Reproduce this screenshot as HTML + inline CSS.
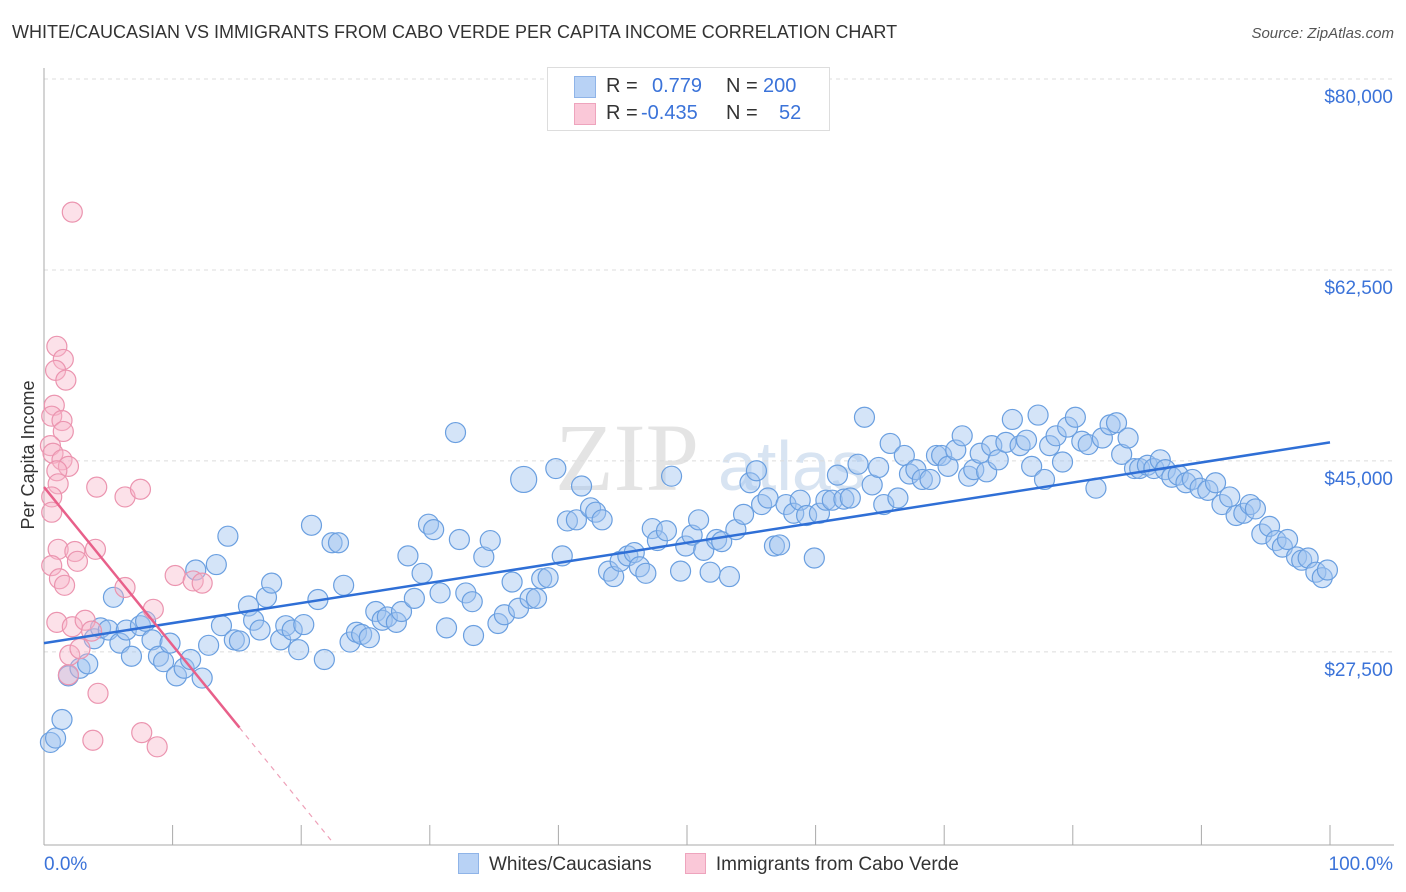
<!DOCTYPE html>
<html><head><meta charset="utf-8">
<style>
body{margin:0;background:#fff;font-family:"Liberation Sans",sans-serif;}
#wrap{position:relative;width:1406px;height:892px;overflow:hidden;}
.t{position:absolute;white-space:nowrap;}
</style></head>
<body>
<div id="wrap">
<div class="t" style="left:12px;top:22px;font-size:18px;color:#333;">WHITE/CAUCASIAN VS IMMIGRANTS FROM CABO VERDE PER CAPITA INCOME CORRELATION CHART</div>
<div class="t" style="right:12px;top:25px;font-size:15px;color:#555;font-style:italic;">Source: ZipAtlas.com</div>
<svg id="chart" width="1406" height="892" style="position:absolute;left:0;top:0"></svg>
<div class="t" style="left:547px;top:67px;width:281px;height:62px;border:1px solid #ddd;background:#fff;font-size:20px;">
 <div style="position:absolute;left:26px;top:8px;width:20px;height:20px;background:#b8d2f5;border:1px solid #8fb4e8;"></div>
 <div style="position:absolute;left:26px;top:35px;width:20px;height:20px;background:#fac8d8;border:1px solid #eea4bd;"></div>
 <div style="position:absolute;left:58px;top:7px;color:#333">R = </div>
 <div style="position:absolute;left:104px;top:7px;color:#3b73d9">0.779</div>
 <div style="position:absolute;left:178px;top:7px;color:#333">N = </div>
 <div style="position:absolute;left:215px;top:7px;color:#3b73d9">200</div>
 <div style="position:absolute;left:58px;top:34px;color:#333">R = </div>
 <div style="position:absolute;left:93px;top:34px;color:#3b73d9">-0.435</div>
 <div style="position:absolute;left:178px;top:34px;color:#333">N = </div>
 <div style="position:absolute;left:231px;top:34px;color:#3b73d9">52</div>
</div>
<div class="t" style="left:458px;top:853px;font-size:19px;color:#333;">
 <span style="display:inline-block;"><span style="display:inline-block;width:19px;height:19px;background:#b8d2f5;border:1px solid #8fb4e8;vertical-align:-4px;margin-right:10px;"></span>Whites/Caucasians</span>
 <span style="display:inline-block;margin-left:28px;"><span style="display:inline-block;width:19px;height:19px;background:#fac8d8;border:1px solid #eea4bd;vertical-align:-4px;margin-right:10px;"></span>Immigrants from Cabo Verde</span>
</div>
</div>
<script>
const blueX=[0.5,0.9,1.4,1.9,2.8,3.4,3.9,4.4,5.0,5.4,5.9,6.4,6.8,7.5,7.9,8.4,8.9,9.3,9.8,10.3,10.9,11.4,11.8,12.3,12.8,13.4,13.8,14.3,14.8,15.2,15.9,16.3,16.8,17.3,17.7,18.4,18.8,19.3,19.8,20.2,20.8,21.3,21.8,22.4,22.9,23.3,23.8,24.3,24.7,25.3,25.8,26.3,26.7,27.4,27.8,28.3,28.8,29.4,29.9,30.3,30.8,31.3,32.0,32.3,32.8,33.3,33.4,34.2,34.7,35.3,35.8,36.4,36.9,37.3,37.8,38.3,38.7,39.2,39.8,40.3,40.7,41.4,41.8,42.5,42.9,43.4,43.9,44.3,44.8,45.4,45.9,46.3,46.8,47.3,47.7,48.4,48.8,49.5,49.9,50.4,50.9,51.3,51.8,52.3,52.7,53.3,53.8,54.4,54.9,55.4,55.8,56.3,56.8,57.2,57.7,58.3,58.8,59.3,59.9,60.3,60.8,61.3,61.7,62.2,62.7,63.3,63.8,64.4,64.9,65.3,65.8,66.4,66.9,67.3,67.8,68.3,68.9,69.4,69.8,70.3,70.9,71.4,71.9,72.3,72.8,73.3,73.7,74.2,74.8,75.3,75.9,76.4,76.8,77.3,77.8,78.2,78.7,79.2,79.6,80.2,80.7,81.2,81.8,82.3,82.9,83.4,83.8,84.3,84.8,85.2,85.8,86.3,86.8,87.2,87.7,88.2,88.8,89.3,89.9,90.5,91.1,91.6,92.2,92.7,93.3,93.8,94.2,94.7,95.3,95.8,96.3,96.7,97.4,97.8,98.3,98.9,99.4,99.8];
const blueY=[19.2,19.6,21.3,25.3,26.0,26.4,28.7,29.7,29.5,32.5,28.3,29.5,27.1,29.9,30.3,28.6,27.1,26.6,28.3,25.3,26.0,26.8,35.0,25.1,28.1,35.5,29.9,38.1,28.6,28.5,31.7,30.4,29.5,32.5,33.8,28.6,29.9,29.5,27.7,30.0,39.1,32.3,26.8,37.5,37.5,33.6,28.4,29.3,29.1,28.8,31.2,30.4,30.7,30.2,31.2,36.3,32.4,34.7,39.2,38.7,32.9,29.7,47.6,37.8,32.9,32.1,29.0,36.2,37.7,30.1,30.9,33.9,31.5,43.3,32.4,32.4,34.2,34.3,44.3,36.3,39.5,39.6,42.7,40.7,40.3,39.6,34.9,34.4,35.8,36.3,36.6,35.3,34.7,38.8,37.7,38.6,43.6,34.9,37.2,38.2,39.6,36.8,34.8,37.8,37.6,34.4,38.7,40.1,43.0,44.1,41.0,41.6,37.2,37.3,41.0,40.2,41.4,40.0,36.1,40.2,41.4,41.4,43.7,41.5,41.6,44.7,49.0,42.8,44.4,41.0,46.6,41.6,45.5,43.8,44.2,43.3,43.3,45.5,45.5,44.5,46.0,47.3,43.6,44.2,45.7,44.0,46.4,45.1,46.7,48.8,46.4,46.9,44.5,49.2,43.3,46.4,47.3,44.9,48.1,49.0,46.8,46.5,42.5,47.1,48.3,48.5,45.6,47.1,44.3,44.3,44.6,44.3,45.1,44.2,43.5,43.7,43.0,43.3,42.5,42.3,43.0,41.0,41.7,40.0,40.2,41.0,40.6,38.3,39.0,37.7,37.1,37.8,36.2,35.9,36.1,34.8,34.3,35.0];
const pinkX=[2.2,1.0,1.5,0.9,1.7,0.8,0.6,1.4,1.5,0.5,0.7,1.4,1.9,1.0,1.1,4.1,6.3,7.5,0.6,0.6,1.1,2.4,2.6,4.0,0.6,1.2,1.6,6.3,10.2,11.6,12.3,8.5,1.0,2.2,3.2,3.7,2.0,1.9,2.8,4.2,3.8,7.6,8.8];
const pinkY=[67.8,55.5,54.3,53.3,52.4,50.1,49.1,48.7,47.7,46.4,45.7,45.1,44.5,44.1,42.9,42.6,41.7,42.4,41.7,40.3,36.9,36.7,35.8,36.9,35.4,34.2,33.6,33.4,34.5,34.0,33.8,31.4,30.2,29.8,30.4,29.4,27.2,25.4,27.8,23.7,19.4,20.1,18.8];
const bigBlue=[73];
const blueTrend=[28.3,46.7];
const pinkTrendStart=42.6, pinkSlope=-1.45, pinkSolidEnd=15.2, pinkDashEnd=22.5;
const yTicks=[27500,45000,62500,80000];
const yTickLabels=["$27,500","$45,000","$62,500","$80,000"];
const xTicks=[0,10,20,30,40,50,60,70,80,90,100];

const X0=44,X1=1330,YB=845,YT=79,VMIN=9.8,VMAX=80;
const sx=v=>X0+(v/100)*(X1-X0);
const sy=v=>YB-(v-VMIN)/(VMAX-VMIN)*(YB-YT);
const svg=document.getElementById('chart');
const NS='http://www.w3.org/2000/svg';
function mk(tag,attrs){const e=document.createElementNS(NS,tag);for(const k in attrs)e.setAttribute(k,attrs[k]);svg.appendChild(e);return e;}

// watermark
let wm=mk('text',{x:555,y:490,'font-size':96,fill:'#e4e4e4','font-family':'Liberation Serif, serif'});


wm.textContent='ZIP';
let wm2=mk('text',{x:718,y:490,'font-size':70,fill:'#d8e4f2','font-family':'Liberation Sans, sans-serif'});


wm2.textContent='atlas';

// gridlines
yTicks.forEach((t,i)=>{
 const y=sy(t/1000);
 const g=mk('line',{x1:X0,x2:1394,y1:y,y2:y,stroke:'#dcdcdc','stroke-dasharray':'4,4'});
 
 
 const lb=mk('text',{x:1393,y:y+24,'text-anchor':'end','font-size':19,fill:'#3b73d9','font-family':'Liberation Sans, sans-serif'});
 
 
 lb.textContent=yTickLabels[i];
});
// axes
let ya=mk('line',{x1:X0,x2:X0,y1:68,y2:YB,stroke:'#aaa'});


let xa=mk('line',{x1:X0,x2:1394,y1:YB,y2:YB,stroke:'#aaa'});


xTicks.forEach(t=>{
 const tk=mk('line',{x1:sx(t),x2:sx(t),y1:YB-20,y2:YB,stroke:'#aaa'});
 
 
});
let xl0=mk('text',{x:44,y:870,'font-size':19,fill:'#3b73d9','font-family':'Liberation Sans, sans-serif'});


xl0.textContent='0.0%';
let xl1=mk('text',{x:1393,y:870,'text-anchor':'end','font-size':19,fill:'#3b73d9','font-family':'Liberation Sans, sans-serif'});


xl1.textContent='100.0%';
let yt=mk('text',{x:0,y:0,'font-size':18,fill:'#333','font-family':'Liberation Sans, sans-serif','text-anchor':'middle',transform:'translate(34,455) rotate(-90)'});


yt.textContent='Per Capita Income';

// points
blueX.forEach((x,i)=>{
 const c=mk('circle',{cx:sx(x),cy:sy(blueY[i]),r:bigBlue.includes(i)?13:10,fill:'rgba(160,196,240,0.45)',stroke:'#6a9fe0','stroke-width':1.2});
 
 
});
pinkX.forEach((x,i)=>{
 const c=mk('circle',{cx:sx(x),cy:sy(pinkY[i]),r:10,fill:'rgba(248,180,200,0.4)',stroke:'#eb94af','stroke-width':1.2});
 
 
});
// trend lines
let bl=mk('line',{x1:sx(0),y1:sy(blueTrend[0]),x2:sx(100),y2:sy(blueTrend[1]),stroke:'#2f6fd6','stroke-width':2.5});


let pl=mk('line',{x1:sx(0),y1:sy(pinkTrendStart),x2:sx(pinkSolidEnd),y2:sy(pinkTrendStart+pinkSlope*pinkSolidEnd),stroke:'#e8608a','stroke-width':2.5});


let pd=mk('line',{x1:sx(pinkSolidEnd),y1:sy(pinkTrendStart+pinkSlope*pinkSolidEnd),x2:sx(pinkDashEnd),y2:sy(pinkTrendStart+pinkSlope*pinkDashEnd),stroke:'#eea0b8','stroke-width':1.2,'stroke-dasharray':'5,5'});


</script>
</body></html>
